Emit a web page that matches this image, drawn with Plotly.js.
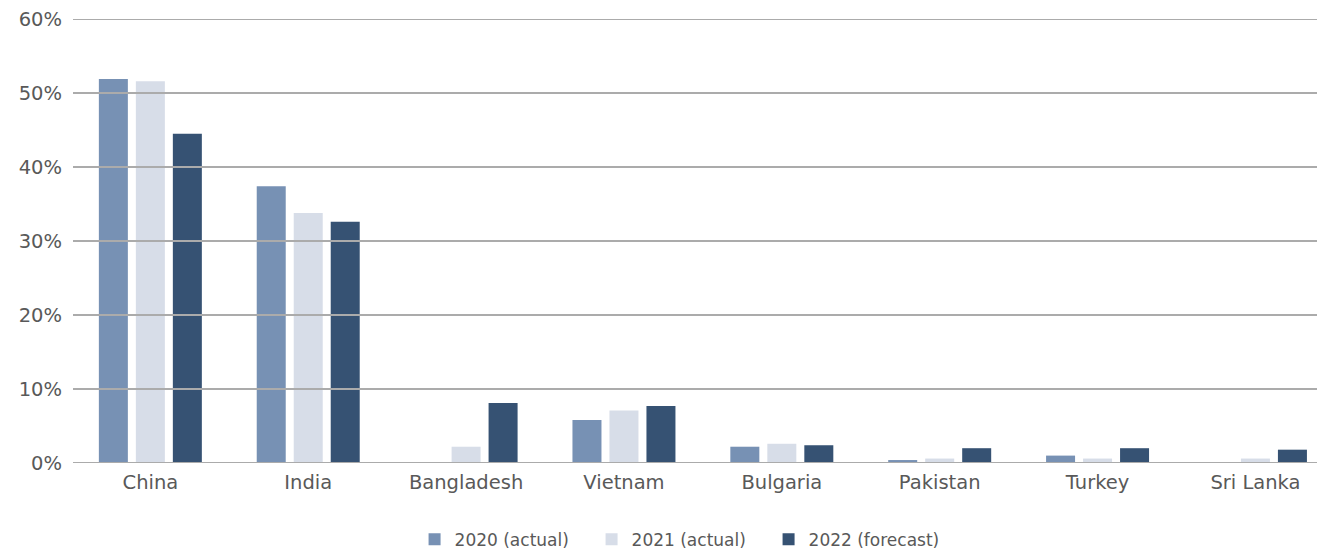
<!DOCTYPE html>
<html>
<head>
<meta charset="utf-8">
<script src="https://cdn.plot.ly/plotly-3.0.1.min.js"></script>
<style>html,body{margin:0;padding:0;background:#fff;}#chart{width:1317px;height:552px;}</style>
</head>
<body>
<div id="chart"></div>
<script>
const categories = ["China", "India", "Bangladesh", "Vietnam", "Bulgaria", "Pakistan", "Turkey", "Sri Lanka"];
const values2020 = [51.9, 37.4, 0, 5.8, 2.2, 0.4, 1.0, 0];
const values2021 = [51.6, 33.8, 2.2, 7.1, 2.6, 0.6, 0.6, 0.6];
const values2022 = [44.5, 32.6, 8.1, 7.7, 2.4, 2.0, 2.0, 1.8];
const seriesNames = ["2020 (actual)", "2021 (actual)", "2022 (forecast)"];
const yTicks = [0, 10, 20, 30, 40, 50, 60];

const colors = ["#7791b4", "#d7dde8", "#365273"];
const seriesValues = [values2020, values2021, values2022];

const traces = seriesValues.map((v, i) => ({
  type: "bar",
  name: seriesNames[i],
  x: categories,
  y: v,
  marker: {color: colors[i]},
  hoverinfo: "x+y"
}));

const gridShapes = yTicks.map(t => ({
  type: "line", xref: "paper", yref: "y",
  x0: 0, x1: 1, y0: t, y1: t,
  layer: "above",
  line: {color: "#ababab", width: 2}
}));

const FONT = "'DejaVu Sans', 'Open Sans', sans-serif";

const layout = {
  width: 1317, height: 552,
  margin: {l: 73, r: 0, t: 19, b: 89, autoexpand: false},
  paper_bgcolor: "#ffffff",
  plot_bgcolor: "#ffffff",
  font: {family: FONT, color: "#595959", size: 18},
  barmode: "group",
  bargap: 0.297,
  bargroupgap: 0.216,
  xaxis: {
    type: "category",
    range: [-0.49, 7.39],
    showgrid: false, zeroline: false, showline: false,
    ticks: "", tickfont: {family: FONT, size: 19.5, color: "#595959"},
    ticklabelstandoff: 5
  },
  yaxis: {
    range: [0, 60],
    tickvals: yTicks,
    ticktext: yTicks.map(t => t + "%"),
    showgrid: false, zeroline: false, showline: false,
    ticks: "", tickfont: {family: FONT, size: 19.5, color: "#595959"},
    ticklabelstandoff: 10
  },
  shapes: gridShapes,
  showlegend: true,
  legend: {
    orientation: "h",
    x: 0.488, xanchor: "center",
    y: -0.173, yanchor: "middle",
    font: {family: FONT, size: 17, color: "#595959"},
    itemwidth: 30,
    entrywidth: 132,
    entrywidthmode: "pixels",
    traceorder: "normal"
  }
};

Plotly.newPlot("chart", traces, layout, {displayModeBar: false, responsive: false});
</script>
</body>
</html>
